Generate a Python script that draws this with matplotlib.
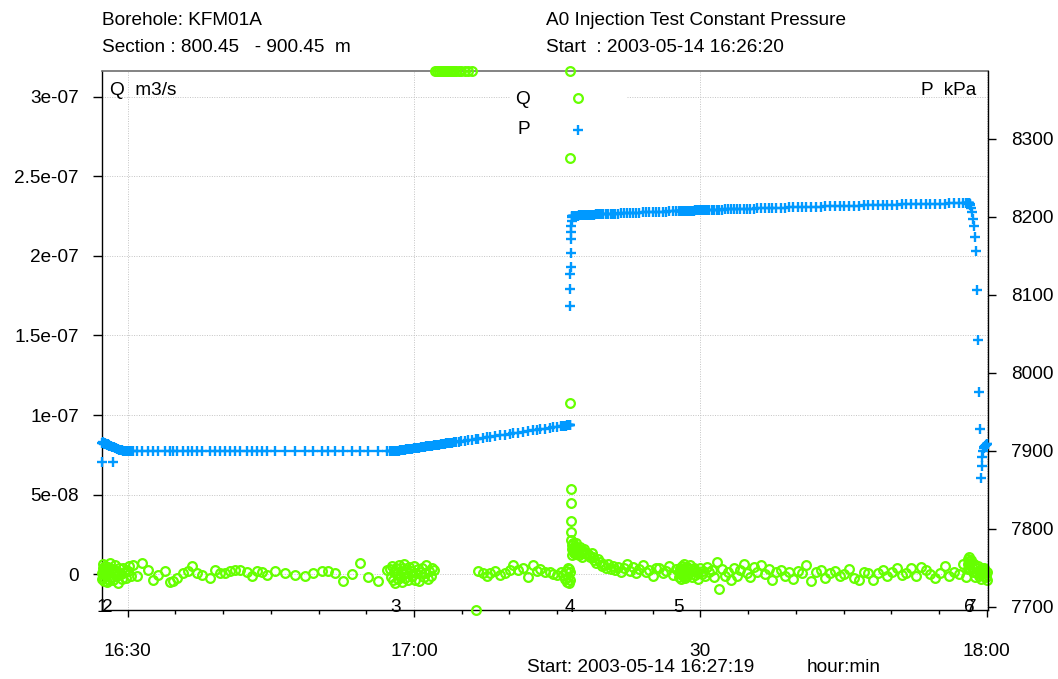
import numpy as np
import matplotlib
matplotlib.use('Agg')
import matplotlib.pyplot as plt
from matplotlib.patches import Rectangle
import matplotlib.transforms as mtransforms
from matplotlib.ticker import FixedLocator, FixedFormatter, MultipleLocator

plt.rcParams['font.family'] = ['Liberation Sans', 'DejaVu Sans']
FS = 13.7
GREEN = '#66ff00'
BLUE = '#0099ff'

# ---------------- data (time = minutes after 16:00) ----------------
# segment 1 : before event 3
t1 = [27.28, 27.32, 27.36, 27.40, 27.44, 27.48, 27.53, 27.58, 27.63, 27.68,
      27.74, 27.80, 27.86, 27.93, 28.00, 28.08, 28.16, 28.25, 28.34, 28.44,
      28.54, 28.65, 28.76, 28.88, 29.00, 29.13, 29.26, 29.40, 29.54, 29.69,
      29.84, 30.00, 30.17, 30.35, 30.56, 31.00, 31.50, 32.10, 32.65, 33.20,
      33.90, 34.40, 34.75, 35.20, 35.80, 36.30, 36.70, 37.30, 37.80, 38.60,
      39.10, 39.70, 40.20, 40.70, 41.20, 41.80, 42.50, 43.00, 43.50, 44.05,
      44.60, 45.40, 46.50, 47.50, 48.60, 49.40, 50.40, 51.00, 51.70, 52.60,
      53.50, 54.30, 55.20, 56.20, 57.20]
P1 = [7885.0, 7909.5, 7911.0, 7910.5, 7910.0, 7909.0, 7910.0, 7909.5, 7908.5, 7909.0,
      7908.5, 7908.0, 7907.5, 7908.0, 7907.0, 7906.5, 7906.0, 7905.5, 7905.0, 7885.0,
      7904.5, 7904.0, 7903.0, 7902.5, 7902.0, 7901.5, 7901.0, 7900.5, 7900.2, 7900.0,
      7899.8, 7899.7, 7899.6, 7899.5, 7899.6, 7899.5, 7899.4, 7899.5, 7899.6, 7899.5,
      7899.4, 7899.5, 7899.5, 7899.6, 7899.5, 7899.4, 7899.5, 7899.5, 7899.6, 7899.5,
      7899.5, 7899.4, 7899.5, 7899.6, 7899.5, 7899.5, 7899.4, 7899.5, 7899.6, 7899.5,
      7899.5, 7899.4, 7899.5, 7899.5, 7899.6, 7899.5, 7899.4, 7899.5, 7899.5, 7899.6,
      7899.5, 7899.5, 7899.4, 7899.5, 7899.6]
Q1 = [0.5, -3.0, 4.0, 6.5, -2.0, 1.0, -4.5, 3.0, 5.0, -1.0,
      2.5, -5.0, 0.0, 4.5, -3.5, 1.5, 7.0, -2.0, 3.0, -4.0,
      0.5, 5.5, -1.5, 2.0, -5.5, 3.5, 0.0, -3.0, 4.0, 1.0,
      -2.5, 2.0, 5.0, -1.0, 5.7, -1.5, 6.9, 2.5, -3.8, -0.6,
      1.9, -5.0, -4.4, -2.5, 0.6, 1.9, 5.0, 0.6, -0.6, -2.5,
      2.5, 0.6, 0.6, 1.9, 2.5, 2.5, 1.3, -1.3, 1.9, 1.0,
      -0.6, 1.9, 0.6, -0.6, -1.3, 0.6, 1.9, 1.9, 0.6, -4.4,
      0.0, 6.9, -1.9, -4.4, 2.5]

# segment 2 : event 3 -> event 4
t2 = [57.50, 57.60, 57.70, 57.80, 57.90, 58.00, 58.10, 58.20, 58.30, 58.40,
      58.50, 58.60, 58.70, 58.80, 58.90, 59.00, 59.10, 59.20, 59.35, 59.50,
      59.65, 59.80, 59.95, 60.10, 60.25, 60.40, 60.55, 60.70, 60.85, 61.00,
      61.15, 61.30, 61.45, 61.60, 61.75, 61.90, 62.05, 62.20, 62.40, 62.60,
      62.80, 63.00, 63.20, 63.40, 63.60, 63.80, 64.00, 64.20, 64.45, 64.70,
      64.95, 65.30, 65.70, 66.10, 66.45, 66.70, 67.20, 67.65, 68.00, 68.50,
      69.00, 69.50, 70.05, 70.40, 70.90, 71.40, 71.90, 72.45, 72.90, 73.20,
      73.70, 74.25, 74.60, 75.00, 75.35, 75.60, 75.80, 75.95, 76.05, 76.12,
      76.18, 76.23, 76.27, 76.30, 76.32]
P2 = [7899.5, 7899.4, 7899.6, 7899.5, 7899.5, 7899.6, 7899.6, 7899.8, 7900.0, 7900.1,
      7900.3, 7900.5, 7900.7, 7900.9, 7901.1, 7901.2, 7901.4, 7901.6, 7901.9, 7902.2,
      7902.4, 7902.7, 7903.0, 7903.3, 7903.5, 7903.8, 7904.1, 7904.4, 7904.6, 7904.9,
      7905.2, 7905.5, 7905.7, 7906.0, 7906.3, 7906.6, 7906.8, 7907.1, 7907.5, 7907.8,
      7908.2, 7908.6, 7908.9, 7909.3, 7909.6, 7910.0, 7910.4, 7910.7, 7911.2, 7911.7,
      7912.1, 7912.8, 7913.5, 7914.2, 7914.9, 7915.3, 7916.3, 7917.1, 7917.7, 7918.7,
      7919.6, 7920.5, 7921.5, 7922.2, 7923.1, 7924.0, 7925.0, 7926.0, 7926.8, 7927.3,
      7928.2, 7929.2, 7929.9, 7930.6, 7931.2, 7931.7, 7932.1, 7932.3, 7932.5, 7932.7,
      7932.8, 7932.9, 7933.0, 7933.0, 7933.1]
Q2 = [3.0, -2.0, 5.0, -4.0, 1.5, -5.5, 4.0, 0.5, -3.0, 5.5,
      -1.0, 2.0, -5.0, 3.5, 0.0, 6.0, -2.5, 1.0, -4.0, 4.5,
      2.0, -1.5, 5.0, -3.5, 0.5, 3.0, -4.5, 1.5, 4.0, -2.0,
      0.5, 5.5, -3.0, 2.0, -1.0, 3.5, 2.5, 420.0, 455.0, 390.0,
      470.0, 410.0, 440.0, 500.0, 385.0, 430.0, 460.0, 405.0, 445.0, 395.0,
      420.0, 380.0, 410.0, 360.0, -35.0, 1.9, 0.6, -1.3, 0.5, 1.9,
      -0.5, 0.6, 2.5, 5.7, 2.5, 3.8, -1.9, 5.7, 2.0, 3.1,
      1.3, 1.3, 0.0, -0.6, 1.0, -0.6, -3.0, 2.0, -5.0, 4.0,
      -2.0, 3.0, -5.5, 1.0, -3.5]

# segment 3 : injection, event 4 -> event 6
t3 = [76.34, 76.36, 76.38, 76.40, 76.42, 76.44, 76.46, 76.49, 76.52, 76.55,
      76.58, 76.62, 76.66, 76.70, 76.75, 76.80, 76.86, 76.92, 76.98, 77.05,
      77.12, 77.20, 77.30, 77.40, 77.50, 77.60, 77.72, 77.85, 78.00, 78.15,
      78.30, 78.45, 78.60, 78.75, 78.90, 79.05, 79.25, 79.45, 79.65, 79.85,
      80.10, 80.35, 80.60, 80.85, 81.10, 81.40, 81.70, 82.00, 82.30, 82.60,
      82.90, 83.25, 83.60, 83.95, 84.30, 84.65, 85.00, 85.35, 85.70, 86.05,
      86.40, 86.75, 87.10, 87.45, 87.76, 87.80, 87.85, 87.90, 87.95, 88.00,
      88.06, 88.12, 88.18, 88.25, 88.32, 88.40, 88.48, 88.56, 88.65, 88.75,
      88.85, 88.96, 89.08, 89.20, 89.33, 89.47, 89.62, 89.78, 89.95, 90.13,
      90.32, 90.52, 90.73, 90.95, 91.20, 91.45, 91.70, 92.00, 92.30, 92.60,
      92.90, 93.20, 93.50, 93.85, 94.20, 94.55, 94.90, 95.25, 95.60, 95.95,
      96.35, 96.75, 97.15, 97.55, 97.95, 98.40, 98.85, 99.30, 99.75, 100.20,
      100.65, 101.10, 101.60, 102.10, 102.60, 103.10, 103.60, 104.10, 104.60, 105.10,
      105.60, 106.10, 106.60, 107.10, 107.60, 108.10, 108.60, 109.10, 109.60, 110.10,
      110.60, 111.10, 111.60, 112.10, 112.60, 113.10, 113.60, 114.10, 114.60, 115.10,
      115.60, 116.10, 116.60, 117.10, 117.50, 117.80, 118.00]
P3 = [8085.0, 8107.0, 8126.0, 8135.0, 8153.0, 8172.0, 8180.0, 8188.0, 8195.0, 8199.0,
      8200.3, 8200.6, 8200.8, 8200.9, 8201.0, 8201.1, 8201.2, 8201.3, 8201.3, 8201.4,
      8201.5, 8201.5, 8201.6, 8201.7, 8201.8, 8201.9, 8202.0, 8202.1, 8202.2, 8202.3,
      8202.4, 8202.5, 8202.6, 8202.7, 8202.8, 8202.9, 8203.0, 8203.1, 8203.2, 8203.3,
      8203.4, 8203.6, 8203.7, 8203.8, 8204.0, 8204.1, 8204.3, 8204.4, 8204.6, 8204.7,
      8204.9, 8205.0, 8205.2, 8205.4, 8205.5, 8205.7, 8205.9, 8206.0, 8206.2, 8206.3,
      8206.5, 8206.7, 8206.8, 8207.0, 8207.1, 8207.1, 8207.2, 8207.2, 8207.2, 8207.3,
      8207.3, 8207.3, 8207.4, 8207.4, 8207.4, 8207.5, 8207.5, 8207.5, 8207.6, 8207.6,
      8207.7, 8207.7, 8207.8, 8207.8, 8207.9, 8208.0, 8208.0, 8208.1, 8208.2, 8208.3,
      8208.4, 8208.4, 8208.5, 8208.6, 8208.7, 8208.8, 8208.9, 8209.1, 8209.2, 8209.3,
      8209.4, 8209.6, 8209.7, 8209.8, 8210.0, 8210.1, 8210.3, 8210.4, 8210.5, 8210.7,
      8210.8, 8211.0, 8211.1, 8211.3, 8211.4, 8211.6, 8211.8, 8211.9, 8212.1, 8212.2,
      8212.4, 8212.5, 8212.7, 8212.9, 8213.0, 8213.2, 8213.4, 8213.5, 8213.7, 8213.9,
      8214.0, 8214.2, 8214.3, 8214.5, 8214.6, 8214.8, 8214.9, 8215.1, 8215.2, 8215.4,
      8215.5, 8215.7, 8215.8, 8216.0, 8216.1, 8216.3, 8216.4, 8216.5, 8216.7, 8216.8,
      8216.9, 8217.1, 8217.2, 8217.3, 8217.4, 8217.5, 8217.6]
Q3 = [450.0, 261.5, 107.7, 53.5, 44.7, 33.3, 26.4, 21.4, 12.0, 16.0,
      18.0, 14.5, 19.5, 15.0, 13.0, 17.0, 14.0, 19.5, 12.5, 16.5,
      13.5, 15.5, 12.0, 17.0, 13.5, 11.0, 14.5, 16.0, 12.5, 13.5,
      12.0, 10.5, 13.0, 10.7, 8.5, 6.9, 9.5, 7.5, 5.0, 6.5,
      4.0, 6.0, 3.0, 5.0, 2.5, 4.5, 1.5, 3.5, 6.0, 2.0,
      4.5, 0.5, 3.0, 5.5, 1.0, 2.5, -1.0, 4.0, 3.5, 0.5,
      2.0, 5.0, -0.5, 3.0, 1.5, -2.0, 4.0, 0.0, 2.5, -3.0,
      5.0, 1.0, -1.5, 3.5, 6.0, -2.5, 2.0, 4.5, -1.0, 3.0,
      0.5, 5.5, -2.0, 2.5, 4.0, -0.5, 1.5, -3.0, 3.5, 0.0,
      2.0, -1.5, 4.5, 1.0, 2.5, -2.0, 7.5, -9.4, 3.0, -1.0,
      1.5, -3.5, 4.0, -1.0, 2.5, 6.5, 0.5, -2.0, 4.5, 1.0,
      5.5, 0.0, 3.0, -4.0, 1.5, 2.5, -1.5, 1.0, -3.0, 2.0,
      0.5, 5.7, -4.4, 1.0, 2.5, -2.5, 0.5, 1.9, -1.5, 0.0,
      3.0, -2.5, -3.5, 1.5, 0.5, -3.8, 0.5, 2.5, -1.0, 1.0,
      4.0, -0.5, 0.6, 3.5, -1.3, 4.5, 2.5, 0.0, -2.5, 0.5,
      5.0, -1.0, 1.5, 0.0, 6.0, -2.0, 3.0]

# segment 4 : after event 6
t4 = [118.04, 118.07, 118.10, 118.13, 118.16, 118.20, 118.25, 118.30, 118.36, 118.46,
      118.56, 118.67, 118.77, 118.88, 118.98, 119.09, 119.20, 119.30, 119.40, 119.46,
      119.53, 119.60, 119.68, 119.76, 119.84, 119.92, 120.00, 120.07]
P4 = [8217.6, 8217.6, 8217.5, 8217.4, 8217.2, 8216.8, 8216.0, 8214.5, 8211.0, 8206.0,
      8197.0, 8188.0, 8174.0, 8156.0, 8106.0, 8042.0, 7975.0, 7928.0, 7865.0, 7880.0,
      7892.0, 7899.0, 7903.0, 7905.0, 7906.5, 7907.5, 7908.0, 7908.5]
Q4 = [6.0, 9.5, 4.0, 8.0, 11.0, 5.5, 7.0, 3.0, 9.0, 4.5,
      1.0, 6.5, -2.0, 3.5, 0.5, 5.0, -1.5, 2.0, -3.0, 4.0,
      0.0, 2.5, -1.0, 3.5, 1.0, -2.0, 1.5, -4.0]

Q_UNIT = 1e-9  # Q lists are in 1e-9 m3/s

event_times = [27.28, 27.91, 58.10, 76.34, 87.76, 118.15, 118.36]
event_labels = ['1', '2', '3', '4', '5', '6', '7']

xtick_pos = [30, 60, 90, 120]
xtick_labels = ['16:30', '17:00', '30', '18:00']
q_ticks = [0, 5e-8, 1e-7, 1.5e-7, 2e-7, 2.5e-7, 3e-7]
q_tick_labels = ['0', '5e-08', '1e-07', '1.5e-07', '2e-07', '2.5e-07', '3e-07']
p_ticks = [7700, 7800, 7900, 8000, 8100, 8200, 8300]
p_tick_labels = ['7700', '7800', '7900', '8000', '8100', '8200', '8300']

XLIM = (27.276, 120.14)
QLIM = (-2.264e-08, 3.1635e-07)
PLIM = (7695.8, 8386.8)

# ---------------- figure ----------------
W, H = 1058, 679
fig = plt.figure(figsize=(W / 100, H / 100), dpi=100)
L, R, T, B = 101.7, 988.0, 71.0, 610.0
ax = fig.add_axes([L / W, 1 - B / H, (R - L) / W, (B - T) / H])
ax2 = ax.twinx()

t_all = np.concatenate([t1, t2, t3, t4])
P_all = np.concatenate([P1, P2, P3, P4])
Q_all = np.concatenate([Q1, Q2, Q3, Q4]) * Q_UNIT

ax.set_xlim(*XLIM)
ax.set_ylim(*QLIM)
ax2.set_ylim(*PLIM)

QMS, QMEW = 6.3, 1.6
PMS, PMEW = 7.6, 1.7

# Q : out-of-range values drawn on the frame, as in the original software
ax.plot(t_all, np.clip(Q_all, QLIM[0], QLIM[1]), ls='none', marker='o',
        mfc='none', mec=GREEN, ms=QMS, mew=QMEW, clip_on=False, zorder=3)
ax2.plot(t_all, P_all, ls='none', marker='+', color=BLUE, ms=PMS, mew=PMEW,
         clip_on=False, zorder=3)

# grid
ax.set_axisbelow(True)
ax.grid(True, which='major', linestyle=(0, (1, 1.5)), color='#c4c4c4', linewidth=0.7)

# ticks
ax.xaxis.set_major_locator(FixedLocator(xtick_pos))
ax.xaxis.set_major_formatter(FixedFormatter(xtick_labels))
ax.xaxis.set_minor_locator(MultipleLocator(5))
ax.yaxis.set_major_locator(FixedLocator(q_ticks))
ax.yaxis.set_major_formatter(FixedFormatter(q_tick_labels))
ax2.yaxis.set_major_locator(FixedLocator(p_ticks))
ax2.yaxis.set_major_formatter(FixedFormatter(p_tick_labels))

ax.tick_params(axis='x', which='major', direction='out', length=5, width=1.0,
               pad=19, labelsize=FS)
ax.tick_params(axis='x', which='minor', direction='out', length=3, width=1.0)
ax.tick_params(axis='y', which='major', direction='out', length=6.5, width=1.0,
               pad=10, labelsize=FS)
ax2.tick_params(axis='y', which='major', direction='out', length=6.0, width=1.0,
                pad=10.5, labelsize=FS)

# spines
for s in ['left', 'bottom']:
    ax.spines[s].set_linewidth(1.0)
ax.spines['right'].set_visible(False)
ax.spines['top'].set_color('#6e6e6e')
ax.spines['top'].set_linewidth(1.2)
for s in ['top', 'left', 'bottom']:
    ax2.spines[s].set_visible(False)
ax2.spines['right'].set_linewidth(1.0)

# axis unit labels inside the frame
ax.text((110 - L) / (R - L), (B - 95) / (B - T), 'Q  m3/s', transform=ax.transAxes,
        ha='left', va='baseline', fontsize=FS)
ax.text((976 - L) / (R - L), (B - 95) / (B - T), 'P  kPa', transform=ax.transAxes,
        ha='right', va='baseline', fontsize=FS)

# legend (white box, label then marker)
ax.add_patch(Rectangle(((510 - L) / (R - L), (B - 142) / (B - T)),
                       (627 - 510) / (R - L), (142 - 86) / (B - T),
                       transform=ax.transAxes, facecolor='white', edgecolor='none',
                       zorder=2))
ax2.text((523 - L) / (R - L), (B - 100) / (B - T), 'Q', transform=ax.transAxes,
         ha='center', va='center', fontsize=FS, zorder=4)
ax2.text((524 - L) / (R - L), (B - 130) / (B - T), 'P', transform=ax.transAxes,
         ha='center', va='center', fontsize=FS, zorder=4)
ax2.plot([(578 - L) / (R - L)], [(B - 98.3) / (B - T)], transform=ax.transAxes,
         ls='none', marker='o', mfc='none', mec=GREEN, ms=QMS, mew=QMEW, zorder=4)
ax2.plot([(578 - L) / (R - L)], [(B - 130) / (B - T)], transform=ax.transAxes,
         ls='none', marker='+', color=BLUE, ms=PMS, mew=PMEW, zorder=4)

# event numbers
trans = mtransforms.blended_transform_factory(ax.transData, ax.transAxes)
for te, lab in zip(event_times, event_labels):
    ax2.text(te, -0.0035, lab, transform=trans, ha='center', va='baseline',
             fontsize=FS, clip_on=False, zorder=5)

# header / footer texts
fig.text(L / W, 1 - 25 / H, 'Borehole: KFM01A', ha='left', va='baseline', fontsize=FS)
fig.text(L / W, 1 - 51.7 / H, 'Section : 800.45   - 900.45  m', ha='left',
         va='baseline', fontsize=FS)
fig.text(546 / W, 1 - 25 / H, 'A0 Injection Test Constant Pressure', ha='left',
         va='baseline', fontsize=FS)
fig.text(546 / W, 1 - 51.7 / H, 'Start  : 2003-05-14 16:26:20', ha='left',
         va='baseline', fontsize=FS)
fig.text(527 / W, 1 - 671.7 / H, 'Start: 2003-05-14 16:27:19', ha='left',
         va='baseline', fontsize=FS)
fig.text(806.7 / W, 1 - 671.7 / H, 'hour:min', ha='left', va='baseline', fontsize=FS)

fig.savefig('out.png', dpi=100, facecolor='white')
